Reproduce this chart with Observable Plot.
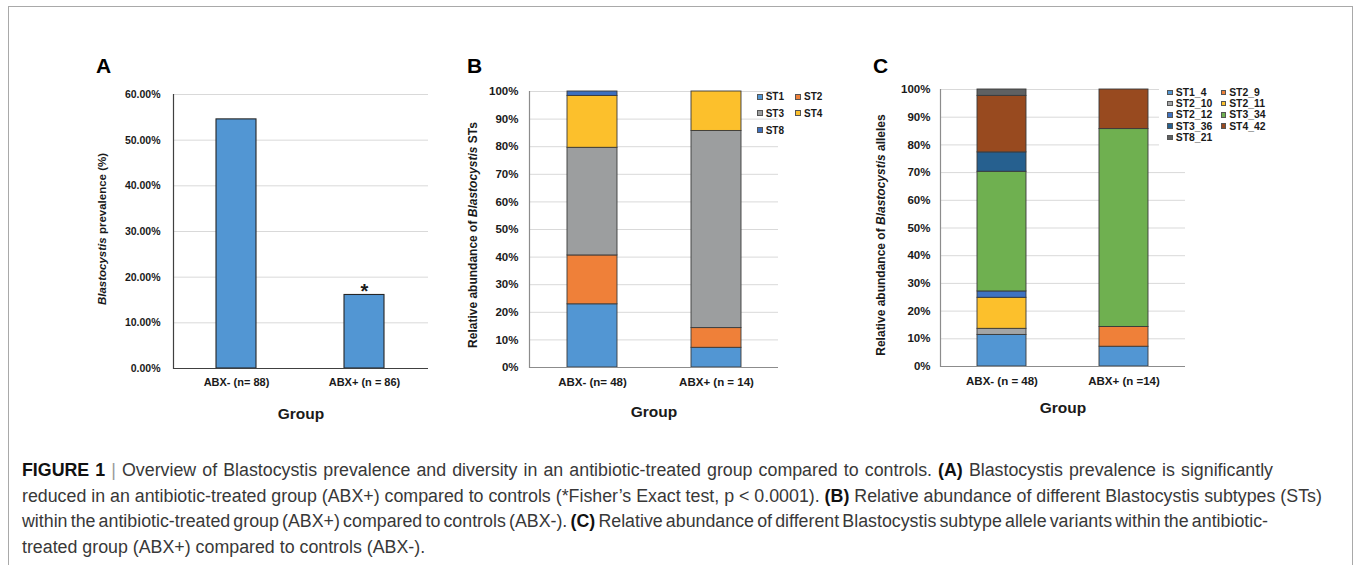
<!DOCTYPE html>
<html>
<head>
<meta charset="utf-8">
<script src="https://cdn.jsdelivr.net/npm/d3@7"></script>
<script src="https://cdn.jsdelivr.net/npm/@observablehq/plot@0.6"></script>
<style>
  html, body { margin: 0; padding: 0; background: #fff; }
  body { width: 1356px; height: 565px; overflow: hidden; position: relative; font-family: "Liberation Sans", Arial, sans-serif; }
  #frame { position: absolute; left: 8px; top: 6px; width: 1345px; height: 620px; border: 1.5px solid #a9a9a9; box-sizing: border-box; }
  .plabel { position: absolute; font: bold 21px "Liberation Sans", Arial, sans-serif; line-height: 21px; color: #000; }
  .panel { position: absolute; }
  .cap { position: absolute; left: 22px; height: 20px; line-height: 20px; white-space: nowrap; color: #383838; font-family: "Liberation Sans", Arial, sans-serif; }
  .cap b { color: #111; }
  .sep { color: #999; }
</style>
</head>
<body>
<div id="frame"></div>
<div id="root"></div>
<script>
// ---------------- data ----------------
const groupsA = ["ABX- (n= 88)", "ABX+ (n = 86)"];
const prevalence = [54.55, 16.1];
const significance = ["", "*"];
const yTicksA = [0, 10, 20, 30, 40, 50, 60];

const groupsB = ["ABX- (n= 48)", "ABX+ (n = 14)"];
const subtypes = ["ST1", "ST2", "ST3", "ST4", "ST8"];
const stColors = ["#5296d3", "#ef8039", "#9c9e9f", "#fcc02c", "#3d6fc0"];
const stAbxNeg = [22.9, 17.7, 39.0, 18.8, 1.6];
const stAbxPos = [7.14, 7.14, 71.43, 14.29, 0];

const groupsC = ["ABX- (n = 48)", "ABX+ (n =14)"];
const alleles = ["ST1_4", "ST2_9", "ST2_10", "ST2_11", "ST2_12", "ST3_34", "ST3_36", "ST4_42", "ST8_21"];
const alleleColors = ["#5296d3", "#ef8039", "#a3a5a6", "#fcc02c", "#3f72c2", "#6fb050", "#26608f", "#984a1f", "#5f6162"];
const alAbxNeg = [11.4, 0, 2.2, 11.2, 2.3, 43.2, 7.0, 20.4, 2.3];
const alAbxPos = [7.14, 7.14, 0, 0, 0, 71.43, 0, 14.29, 0];

const pctTicks = [0, 10, 20, 30, 40, 50, 60, 70, 80, 90, 100];
const xTitle = ["Group"];
const panelLetters = ["A", "B", "C"];
const yTitleA = [{t: "Blastocystis", i: true}, {t: " prevalence (%)", i: false}];
const yTitleB = [{t: "Relative abundance of ", i: false}, {t: "Blastocystis", i: true}, {t: " STs", i: false}];
const yTitleC = [{t: "Relative abundance of ", i: false}, {t: "Blastocystis", i: true}, {t: " alleles", i: false}];

const captionLines = [
  '<b>FIGURE 1</b> <span class="sep">|</span> Overview of Blastocystis prevalence and diversity in an antibiotic-treated group compared to controls. <b>(A)</b> Blastocystis prevalence is significantly',
  'reduced in an antibiotic-treated group (ABX+) compared to controls (*Fisher’s Exact test, p &lt; 0.0001). <b>(B)</b> Relative abundance of different Blastocystis subtypes (STs)',
  'within the antibiotic-treated group (ABX+) compared to controls (ABX-). <b>(C)</b> Relative abundance of different Blastocystis subtype allele variants within the antibiotic-',
  'treated group (ABX+) compared to controls (ABX-).'
];

// ---------------- helpers ----------------
const FONT = '"Liberation Sans", Arial, sans-serif';
const root = document.getElementById("root");

function place(el, left, top) {
  const wrap = document.createElement("div");
  wrap.className = "panel";
  wrap.style.left = left + "px";
  wrap.style.top = top + "px";
  wrap.appendChild(el);
  root.appendChild(wrap);
}

function addYTitle(svg, parts, x, y, fs) {
  const t = d3.select(svg).append("text")
    .attr("transform", `translate(${x},${y}) rotate(-90)`)
    .attr("text-anchor", "middle")
    .attr("dy", "0.35em")
    .attr("font-size", fs)
    .attr("font-weight", "bold")
    .attr("font-family", FONT)
    .attr("fill", "#1a1a1a");
  parts.forEach(p => t.append("tspan").attr("font-style", p.i ? "italic" : "normal").text(p.t));
}

function legend(items, colors, left, top, colW, rowH, fs, sq, bg) {
  if (bg) {
    const b = document.createElement("div");
    b.style.cssText = `position:absolute;left:${bg[0]}px;top:${bg[1]}px;width:${bg[2]}px;height:${bg[3]}px;background:#fff;`;
    root.appendChild(b);
  }
  const box = document.createElement("div");
  box.style.cssText = `position:absolute;left:${left}px;top:${top}px;`;
  items.forEach((it, i) => {
    const col = i % 2, row = Math.floor(i / 2);
    const e = document.createElement("div");
    e.style.cssText = `position:absolute;left:${col * colW}px;top:${row * rowH}px;height:${rowH}px;display:flex;align-items:center;white-space:nowrap;font:bold ${fs}px ${FONT};color:#1a1a1a;`;
    e.innerHTML = `<span style="display:inline-block;box-sizing:border-box;width:${sq}px;height:${sq}px;background:${colors[i]};border:0.6px solid #555;margin-right:3px"></span>${it}`;
    box.appendChild(e);
  });
  root.appendChild(box);
}

const baseStyle = {fontFamily: FONT, fontWeight: "bold", color: "#1a1a1a", background: "transparent", overflow: "visible"};

// ---------------- Panel A ----------------
const dataA = groupsA.map((g, i) => ({group: g, value: prevalence[i], sig: significance[i]}));
const plotA = Plot.plot({
  width: 360, height: 350,
  marginLeft: 93, marginRight: 12, marginTop: 14, marginBottom: 62,
  style: {...baseStyle, fontSize: "11px"},
  x: {domain: groupsA, paddingInner: 0.685, paddingOuter: 0.334, label: null},
  y: {domain: [0, 60], label: null},
  marks: [
    Plot.gridY(yTicksA, {stroke: "#d9d9d9", strokeOpacity: 1}),
    Plot.barY(dataA, {x: "group", y: "value", fill: "#5296d3", stroke: "#262626", strokeWidth: 1.1}),
    Plot.ruleY([0], {stroke: "#404040", strokeWidth: 1.2}),
    Plot.frame({anchor: "left", stroke: "#404040", strokeWidth: 1.2}),
    Plot.axisY(yTicksA, {tickSize: 0, tickPadding: 13, tickFormat: d => d.toFixed(2) + "%", fontSize: 10.5, label: null}),
    Plot.axisX({tickSize: 0, tickPadding: 10, fontSize: 11, label: null}),
    Plot.text(dataA, {x: "group", y: "value", text: "sig", dy: -3, fontSize: 20, lineAnchor: "middle"}),
    Plot.text(xTitle, {frameAnchor: "bottom", dy: 50, fontSize: 15.5})
  ]
});
addYTitle(plotA, yTitleA, 21.7, 149, 11.5);
place(plotA, 80, 80);

// ---------------- Panel B ----------------
const dataB = [];
groupsB.forEach((g, gi) => subtypes.forEach((s, si) => {
  const v = (gi === 0 ? stAbxNeg : stAbxPos)[si];
  if (v > 0) dataB.push({group: g, st: s, value: v});
}));
const plotB = Plot.plot({
  width: 330, height: 350,
  marginLeft: 74, marginRight: 7, marginTop: 11, marginBottom: 63,
  style: {...baseStyle, fontSize: "11.5px"},
  x: {domain: groupsB, paddingInner: 0.598, paddingOuter: 0.296, label: null},
  y: {domain: [0, 100], label: null},
  color: {domain: subtypes, range: stColors},
  marks: [
    Plot.gridY(pctTicks, {stroke: "#d9d9d9", strokeOpacity: 1}),
    Plot.barY(dataB, {x: "group", y: "value", fill: "st", stroke: "#3a3a3a", strokeWidth: 0.9}),
    Plot.ruleY([0], {stroke: "#8c8c8c", strokeWidth: 1.2}),
    Plot.frame({anchor: "left", stroke: "#8c8c8c", strokeWidth: 1.2}),
    Plot.axisY(pctTicks, {tickSize: 0, tickPadding: 11, tickFormat: d => d + "%", fontSize: 11.5, label: null}),
    Plot.axisX({tickSize: 0, tickPadding: 10, fontSize: 11.5, label: null}),
    Plot.text(xTitle, {frameAnchor: "bottom", dy: 49, fontSize: 15.5})
  ]
});
addYTitle(plotB, yTitleB, 17.3, 155, 12);
place(plotB, 455, 80);
legend(subtypes, stColors, 756.7, 88.3, 38.3, 16.7, 10, 6, null);

// ---------------- Panel C ----------------
const dataC = [];
groupsC.forEach((g, gi) => alleles.forEach((s, si) => {
  const v = (gi === 0 ? alAbxNeg : alAbxPos)[si];
  if (v > 0) dataC.push({group: g, al: s, value: v});
}));
const plotC = Plot.plot({
  width: 330, height: 350,
  marginLeft: 80, marginRight: 5, marginTop: 9, marginBottom: 64,
  style: {...baseStyle, fontSize: "11.5px"},
  x: {domain: groupsC, paddingInner: 0.597, paddingOuter: 0.298, label: null},
  y: {domain: [0, 100], label: null},
  color: {domain: alleles, range: alleleColors},
  marks: [
    Plot.gridY(pctTicks, {stroke: "#d9d9d9", strokeOpacity: 1}),
    Plot.barY(dataC, {x: "group", y: "value", fill: "al", stroke: "#3a3a3a", strokeWidth: 0.9}),
    Plot.ruleY([0], {stroke: "#8c8c8c", strokeWidth: 1.2}),
    Plot.frame({anchor: "left", stroke: "#8c8c8c", strokeWidth: 1.2}),
    Plot.axisY(pctTicks, {tickSize: 0, tickPadding: 10, tickFormat: d => d + "%", fontSize: 11.5, label: null}),
    Plot.axisX({tickSize: 0, tickPadding: 10, fontSize: 11.5, label: null}),
    Plot.text(xTitle, {frameAnchor: "bottom", dy: 46, fontSize: 15.5})
  ]
});
addYTitle(plotC, yTitleC, 20.7, 155, 12);
place(plotC, 860, 80);
legend(alleles, alleleColors, 1167.3, 86.7, 53.4, 11.25, 10.4, 5.5, [1159, 84, 150, 62]);

// ---------------- panel letters ----------------
[[96, 55], [467, 55], [873, 55]].forEach((p, i) => {
  const d = document.createElement("div");
  d.className = "plabel";
  d.style.left = p[0] + "px";
  d.style.top = p[1] + "px";
  d.textContent = panelLetters[i];
  root.appendChild(d);
});

// ---------------- caption ----------------
const capCenters = [470, 496, 521, 547];
const capTargets = [1251, 1301, 1246, null];
const capEls = captionLines.map((html, i) => {
  const d = document.createElement("div");
  d.className = "cap";
  d.style.top = (capCenters[i] - 10) + "px";
  d.style.fontSize = "15.5px";
  d.innerHTML = html;
  root.appendChild(d);
  return d;
});
const w2 = capEls[1].getBoundingClientRect().width;
const fs = 15.5 * capTargets[1] / w2;
capEls.forEach(el => el.style.fontSize = fs.toFixed(2) + "px");
capEls.forEach((el, i) => {
  if (capTargets[i] && i !== 1) {
    const w = el.getBoundingClientRect().width;
    const spaces = (el.textContent.match(/ /g) || []).length;
    const ws = Math.max(-2, Math.min(2, (capTargets[i] - w) / spaces));
    el.style.wordSpacing = ws.toFixed(2) + "px";
  }
});
</script>
</body>
</html>
